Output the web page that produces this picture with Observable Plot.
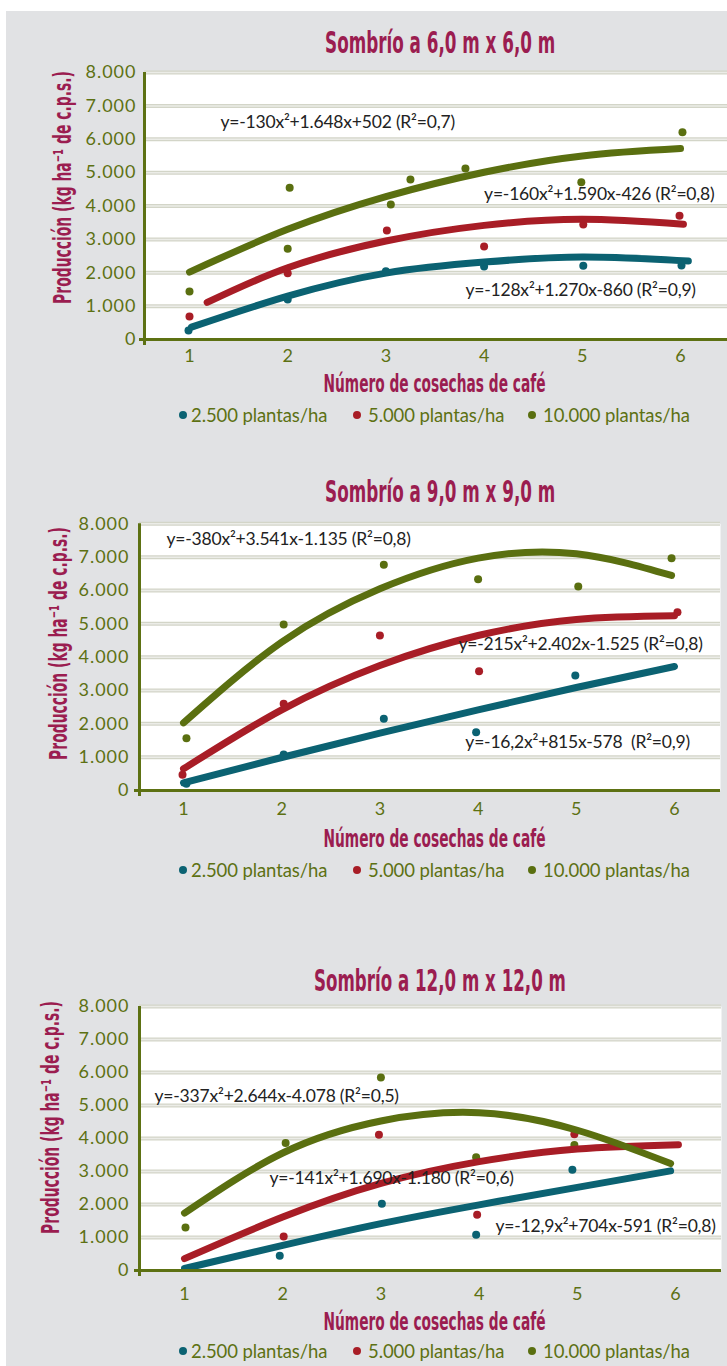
<!DOCTYPE html>
<html>
<head>
<meta charset="utf-8">
<script src="https://cdn.jsdelivr.net/npm/d3@7"></script>
<script src="https://cdn.jsdelivr.net/npm/@observablehq/plot@0.6"></script>
<style>
  html, body { margin: 0; padding: 0; background: #ffffff; }
  #page { position: relative; width: 727px; height: 1366px; overflow: hidden; background: #ffffff; }
  #bg { position: absolute; left: 6px; top: 11px; right: 0; bottom: 0; background: #e1e2e4; }
  .abs { position: absolute; white-space: nowrap; line-height: 1; }
  .cond { font-family: "Liberation Sans Narrow", "DejaVu Sans Condensed", "Liberation Sans", sans-serif; font-weight: bold; color: #9b1d50; }
  .leg { font-family: "Lato", sans-serif; font-size: 18.5px; color: #5d7113; letter-spacing: -0.1px; }
  .legdot { position: absolute; width: 8px; height: 8px; border-radius: 50%; }
  svg { position: absolute; left: 0; overflow: visible; }
</style>
</head>
<body>
<div id="page"><div id="bg"></div></div>
<script>
// ---------------- data ----------------
const harvestTicks = [1, 2, 3, 4, 5, 6];
const prodTicks = [0, 1000, 2000, 3000, 4000, 5000, 6000, 7000, 8000];
const prodTickLabels = ["0", "1.000", "2.000", "3.000", "4.000", "5.000", "6.000", "7.000", "8.000"];
const densities = ["2.500 plantas/ha", "5.000 plantas/ha", "10.000 plantas/ha"];
const densityColors = ["#0b6272", "#a81d26", "#5a6f10"];
const panelTitles = ["Sombrío a 6,0 m x 6,0 m", "Sombrío a 9,0 m x 9,0 m", "Sombrío a 12,0 m x 12,0 m"];
const xTitle = "Número de cosechas de café";
const yTitle = "Producción (kg  ha⁻¹ de c.p.s.)";

// Panel 1 – Sombrío a 6,0 m x 6,0 m
const p1TrendX_2500 = [1.02, 2, 3, 4, 5, 6.08];
const p1TrendY_2500 = [370, 1300, 1990, 2320, 2470, 2350];
const p1TrendX_5000 = [1.18, 2, 3, 4, 5, 6.03];
const p1TrendY_5000 = [1110, 2150, 2950, 3420, 3600, 3450];
const p1TrendX_10000 = [1, 2, 3, 4, 5, 6];
const p1TrendY_10000 = [2020, 3300, 4280, 5010, 5500, 5720];
const p1ObsX_2500 = [0.99, 2, 3, 4, 5.01, 6.01];
const p1ObsY_2500 = [270, 1200, 2046, 2187, 2208, 2217];
const p1ObsX_5000 = [1, 2, 3.01, 4, 5.01, 5.99];
const p1ObsY_5000 = [690, 1987, 3266, 2787, 3446, 3706];
const p1ObsX_10000 = [1, 2.02, 2, 3.05, 3.25, 3.81, 4.99, 6.02];
const p1ObsY_10000 = [1440, 4545, 2718, 4045, 4794, 5124, 4713, 6211];
const p1Equations = ["y=-128x²+1.270x-860 (R²=0,9)", "y=-160x²+1.590x-426 (R²=0,8)", "y=-130x²+1.648x+502 (R²=0,7)"];

// Panel 2 – Sombrío a 9,0 m x 9,0 m
const p2TrendX_2500 = [1, 2, 3, 4, 5, 6];
const p2TrendY_2500 = [230, 990, 1720, 2420, 3090, 3720];
const p2TrendX_5000 = [1, 2, 3, 4, 5, 6];
const p2TrendY_5000 = [650, 2420, 3750, 4650, 5130, 5240];
const p2TrendX_10000 = [1, 2, 3, 4, 5, 5.97];
const p2TrendY_10000 = [2030, 4450, 6050, 6970, 7100, 6450];
const p2ObsX_2500 = [1.03, 2.02, 3.04, 3.98, 4.99];
const p2ObsY_2500 = [200, 1080, 2150, 1750, 3450];
const p2ObsX_5000 = [0.99, 2.02, 3.0, 4.01, 6.03];
const p2ObsY_5000 = [470, 2600, 4650, 3580, 5350];
const p2ObsX_10000 = [1.03, 2.02, 3.04, 4.0, 5.02, 5.97];
const p2ObsY_10000 = [1570, 4980, 6770, 6340, 6120, 6970];
const p2Equations = ["y=-16,2x²+815x-578  (R²=0,9)", "y=-215x²+2.402x-1.525 (R²=0,8)", "y=-380x²+3.541x-1.135 (R²=0,8)"];

// Panel 3 – Sombrío a 12,0 m x 12,0 m
const p3TrendX_2500 = [1, 2, 3, 4, 5, 5.95];
const p3TrendY_2500 = [60, 760, 1420, 1990, 2520, 3020];
const p3TrendX_5000 = [1, 2, 3, 4, 5, 6.03];
const p3TrendY_5000 = [360, 1620, 2640, 3300, 3680, 3810];
const p3TrendX_10000 = [1, 2, 3, 4, 5, 5.95];
const p3TrendY_10000 = [1740, 3560, 4530, 4780, 4250, 3240];
const p3ObsX_2500 = [1.97, 3.01, 3.97, 4.95];
const p3ObsY_2500 = [445, 2020, 1080, 3050];
const p3ObsX_5000 = [2.01, 2.98, 3.98, 4.97];
const p3ObsY_5000 = [1030, 4110, 1690, 4130];
const p3ObsX_10000 = [1.01, 2.03, 3.0, 3.97, 4.97];
const p3ObsY_10000 = [1300, 3860, 5850, 3430, 3800];
const p3Equations = ["y=-12,9x²+704x-591 (R²=0,8)", "y=-141x²+1.690x-1.180 (R²=0,6)", "y=-337x²+2.644x-4.078 (R²=0,5)"];

// ---------------- layout (pixels / anchors) ----------------
const olive = "#5d7113";
const layouts = [
  {axis: 144, right: 727, n1: 189, n6: 680, top8000: 72, y0: 339, svgTop: 60, svgH: 320, yPad: 8, xPad: 10,
   title: [440, 43, 230], xt: [434, 383, 222], yt: [62, 187, 233], legY: 415,
   eqPos: [[3.81, 1468], [4.0, 4345], [1.316, 6502]]},
  {axis: 139, right: 720, n1: 183, n6: 674, top8000: 523.3, y0: 790, svgTop: 510, svgH: 320, yPad: 10, xPad: 12,
   title: [440, 492, 230], xt: [434, 838, 222], yt: [58, 643, 233], legY: 870,
   eqPos: [[3.87, 1440], [3.8, 4380], [0.827, 7529]]},
  {axis: 139, right: 721, n1: 184, n6: 675, top8000: 1006, y0: 1270, svgTop: 994, svgH: 320, yPad: 10, xPad: 17,
   title: [440, 981, 252], xt: [434, 1321, 222], yt: [50, 1117, 233], legY: 1351,
   eqPos: [[4.167, 1333], [1.866, 2788], [0.695, 5273]]}
];
const legendDotX = [183, 357, 532];
const legendTextX = [191, 368, 543];

const panels = [
  {trendX: [p1TrendX_2500, p1TrendX_5000, p1TrendX_10000], trendY: [p1TrendY_2500, p1TrendY_5000, p1TrendY_10000],
   obsX: [p1ObsX_2500, p1ObsX_5000, p1ObsX_10000], obsY: [p1ObsY_2500, p1ObsY_5000, p1ObsY_10000], eq: p1Equations},
  {trendX: [p2TrendX_2500, p2TrendX_5000, p2TrendX_10000], trendY: [p2TrendY_2500, p2TrendY_5000, p2TrendY_10000],
   obsX: [p2ObsX_2500, p2ObsX_5000, p2ObsX_10000], obsY: [p2ObsY_2500, p2ObsY_5000, p2ObsY_10000], eq: p2Equations},
  {trendX: [p3TrendX_2500, p3TrendX_5000, p3TrendX_10000], trendY: [p3TrendY_2500, p3TrendY_5000, p3TrendY_10000],
   obsX: [p3ObsX_2500, p3ObsX_5000, p3ObsX_10000], obsY: [p3ObsY_2500, p3ObsY_5000, p3ObsY_10000], eq: p3Equations}
];

const page = document.getElementById("page");

function placeText(str, cls, cx, cy, targetW, fontSize, rotate) {
  const el = document.createElement("div");
  el.className = "abs " + cls;
  el.style.fontSize = fontSize + "px";
  el.textContent = str;
  page.appendChild(el);
  const w = el.offsetWidth, h = el.offsetHeight;
  const k = targetW / w;
  el.style.left = (cx - w / 2) + "px";
  el.style.top = (cy - h / 2) + "px";
  el.style.transform = (rotate ? "rotate(-90deg) " : "") + "scaleX(" + k + ")";
}

panels.forEach((p, i) => {
  const L = layouts[i];
  const k = (L.n6 - L.n1) / 5;
  const nL = 1 + (L.axis - L.n1) / k;
  const nR = 1 + (L.right - L.n1) / k;
  const vPerPx = 8000 / (L.y0 - L.top8000);

  const trendRows = [];
  const obsRows = [];
  densities.forEach((s, j) => {
    p.trendX[j].forEach((n, m) => trendRows.push({n, v: p.trendY[j][m], s}));
    p.obsX[j].forEach((n, m) => obsRows.push({n, v: p.obsY[j][m], s}));
  });
  const eqRows = p.eq.map((t, j) => ({t, n: L.eqPos[j][0], v: L.eqPos[j][1]}));

  const chart = Plot.plot({
    width: 727,
    height: L.svgH,
    marginLeft: L.axis,
    marginRight: 727 - L.right,
    marginTop: L.top8000 - L.svgTop,
    marginBottom: L.svgTop + L.svgH - L.y0,
    x: {domain: [nL, nR]},
    y: {domain: [0, 8000]},
    color: {domain: densities, range: densityColors},
    style: {background: "transparent", fontFamily: "Lato, sans-serif", overflow: "visible"},
    marks: [
      Plot.frame({fill: "white", stroke: null}),
      Plot.ruleY(prodTicks.slice(1), {stroke: "#d3d5c8", strokeWidth: 4}),
      Plot.ruleY(prodTicks.slice(1), {stroke: "#ebece7", strokeWidth: 1.5}),
      Plot.axisY({ticks: prodTicks, tickSize: 0, tickPadding: L.yPad,
        tickFormat: d => prodTickLabels[prodTicks.indexOf(d)], fontSize: 18, color: olive, label: null}),
      Plot.axisX({ticks: harvestTicks, tickSize: 0, tickPadding: L.xPad,
        tickFormat: d => String(d), fontSize: 18, color: olive, label: null}),
      Plot.dot(obsRows, {x: "n", y: "v", fill: "s", r: 4}),
      Plot.line(trendRows, {x: "n", y: "v", z: "s", stroke: "s", strokeWidth: 7,
        curve: "natural", strokeLinecap: "round", strokeLinejoin: "round"}),
      Plot.ruleY([0], {x1: nL - 5 / k, x2: nR, stroke: olive, strokeWidth: 3}),
      Plot.ruleX([nL], {y1: -6 * vPerPx, y2: 8000, stroke: olive, strokeWidth: 3}),
      Plot.text(eqRows, {x: "n", y: "v", text: "t", textAnchor: "start", lineAnchor: "middle",
        fontSize: 17.5, fill: "#222222"})
    ]
  });
  chart.style.top = L.svgTop + "px";
  chart.querySelectorAll('g[aria-label="y-axis tick label"] text').forEach(t => t.style.letterSpacing = "1px");
  chart.querySelectorAll('g[aria-label="text"] text').forEach(t => { t.style.whiteSpace = "pre"; t.style.letterSpacing = "-0.2px"; });
  page.appendChild(chart);

  placeText(panelTitles[i], "cond", L.title[0], L.title[1], L.title[2], 30, false);
  placeText(xTitle, "cond", L.xt[0], L.xt[1], L.xt[2], 25, false);
  placeText(yTitle, "cond", L.yt[0], L.yt[1], L.yt[2], 25, true);

  densities.forEach((s, j) => {
    const dot = document.createElement("div");
    dot.className = "legdot";
    dot.style.background = densityColors[j];
    dot.style.left = (legendDotX[j] - 4) + "px";
    dot.style.top = (L.legY - 4) + "px";
    page.appendChild(dot);
    const t = document.createElement("div");
    t.className = "abs leg";
    t.textContent = s;
    page.appendChild(t);
    t.style.left = legendTextX[j] + "px";
    t.style.top = (L.legY - t.offsetHeight / 2) + "px";
  });
});
</script>
</body>
</html>
